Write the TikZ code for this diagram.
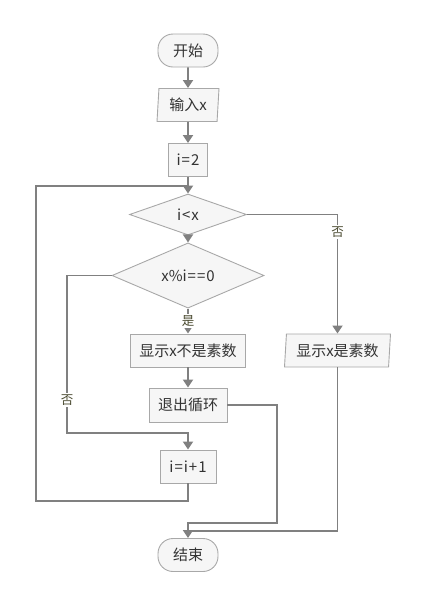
\documentclass[tikz,border=0pt]{standalone}
\usepackage{fontspec}
\setmainfont{Noto Sans CJK SC}
\usetikzlibrary{shapes.geometric,arrows.meta}
\definecolor{boxfill}{HTML}{F6F6F6}
\definecolor{boxline}{HTML}{A8A8A8}
\definecolor{conn}{HTML}{808080}
\definecolor{txt}{HTML}{333333}
\definecolor{lbl}{HTML}{4A4A30}
\begin{document}
\begin{tikzpicture}[x=1pt,y=-1pt,
  base/.style={draw=boxline,fill=boxfill,line width=0.9pt,text=txt,font=\fontsize{15}{17}\selectfont,inner sep=0pt},
  term/.style={base,rectangle,rounded corners=15pt,minimum width=60pt,minimum height=33pt},
  proc/.style={base,rectangle,minimum height=33pt},
  io/.style={base,trapezium,trapezium stretches body,trapezium left angle=82,trapezium right angle=98,minimum height=33pt},
  dec/.style={base,diamond},
  conline/.style={draw=conn,line width=1.8pt},
  arr/.style={conline,-{Triangle[width=10pt,length=8pt]}},
  lab/.style={fill=white,text=lbl,font=\fontsize{12.5}{14}\selectfont,inner sep=1.5pt}
]
\useasboundingbox (0,0) rectangle (429,606);
\node[term] (start) at (188,50.5) {开始};
\node[io,minimum width=62pt] (input) at (188,105) {输入x};
\node[proc,minimum width=39pt] (i2) at (188,160) {i\kern1pt=\kern1pt2};
\node[dec,minimum width=117pt,minimum height=41pt] (d1) at (188,214.5) {i\kern1pt<\kern1pt x};
\node[dec,minimum width=152pt,minimum height=53pt] (d2) at (188,275.5) {x\%i\kern1pt=\kern1pt=\kern1pt0};
\node[proc,minimum width=115pt] (notp) at (188,350.5) {显示x不是素数};
\node[proc,minimum width=78pt,minimum height=34pt] (exitl) at (188,405) {退出循环};
\node[proc,minimum width=56pt] (inc) at (188,466.5) {i\kern1pt=\kern1pt i\kern1pt+\kern1pt1};
\node[io,minimum width=106pt] (prime) at (337.5,350.5) {显示x是素数};
\node[term] (end) at (188,555) {结束};
\coordinate (join) at (188,186);
\coordinate (lc) at (36,501);
\coordinate (nl) at (67,433);
\coordinate (c1) at (277,523);
\coordinate (c2) at (188,531);
\draw[arr] (start) -- (input);
\draw[arr] (input) -- (i2);
\draw[arr] (i2) -- (d1);
\draw[arr] (d1) -- (d2);
\draw[arr] (d1.east) -| (prime.north) node[lab,pos=0.575] {否};
\draw[arr] (d2.south) -- (notp.north) node[lab,pos=0.5] {是};
\draw[arr] (d2.west) -| (nl) node[lab,pos=0.895] {否} -| (inc.north);
\draw[arr] (notp) -- (exitl);
\draw[conline] (inc.south) |- (lc) |- (join);
\draw[arr] (exitl.east) -| (c1) -| (end.north);
\draw[conline] (prime.south) |- (c2);
\end{tikzpicture}
\end{document}
